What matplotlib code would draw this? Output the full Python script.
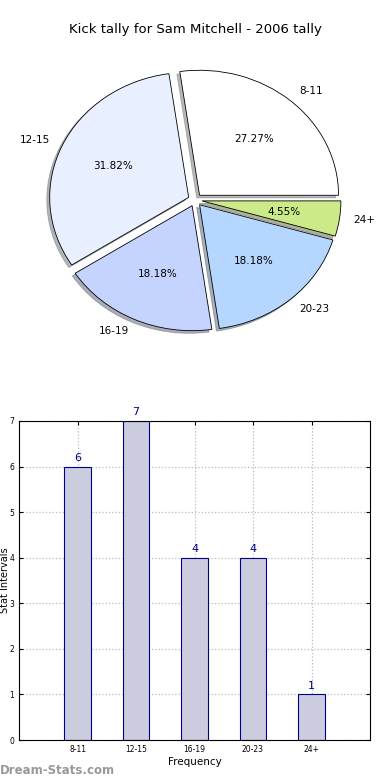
import matplotlib
matplotlib.use('Agg')
from matplotlib import pyplot as plt

# data
labels = ['8-11', '12-15', '16-19', '20-23', '24+']
counts = [6, 7, 4, 4, 1]
pie_colors = ['#ffffff', '#e8f0ff', '#c4d4ff', '#b4d6ff', '#ccea88']

fig = plt.figure(figsize=(3.9, 7.8), dpi=100)

# pie chart (slightly squashed vertically, like the original)
ax1 = fig.add_axes([0, 440/780, 1, 280/780])
wedges, texts, autotexts = ax1.pie(
    counts, labels=labels, colors=pie_colors, explode=[0.05]*5,
    autopct='%1.2f%%', startangle=0, counterclock=True,
    shadow={'ox': -0.015, 'oy': -0.015, 'shade': 0.55},
    wedgeprops=dict(edgecolor='black', linewidth=0.6),
    textprops=dict(fontsize=7.5))
ax1.set_aspect('auto')
ax1.set_xlim(-195/139, 195/139)
ax1.set_ylim(-140/125, 140/125)
ax1.axis('off')
fig.text(0.5, 1 - 30/780, 'Kick tally for Sam Mitchell - 2006 tally',
         ha='center', va='center', fontsize=9.5)

# bar chart
ax2 = fig.add_axes([19/390, 40/780, 351/390, 319/780])
x = range(len(labels))
ax2.bar(x, counts, width=0.45, color='#ccccdf', edgecolor='#00008b', linewidth=0.8, zorder=2)
for i, c in enumerate(counts):
    ax2.text(i, c + 0.08, str(c), ha='center', va='bottom', color='#00008b', fontsize=8)
ax2.set_xlim(-1, 5)
ax2.set_ylim(0, 7)
ax2.set_xticks(list(x))
ax2.set_xticklabels(labels)
ax2.tick_params(labelsize=5.5, direction='in', top=True, right=True, length=3)
ax2.grid(True, linestyle=':', color='#bbbbbb', linewidth=0.9, zorder=0)
ax2.set_axisbelow(True)
ax2.set_xlabel('Frequency', fontsize=7.5, labelpad=2)
ax2.set_ylabel('Stat Intervals', fontsize=7)
ax2.yaxis.set_label_coords(-0.026, 0.5)

fig.text(0.0, 1 - 770/780, 'Dream-Stats.com', ha='left', va='center',
         color='#999999', fontsize=8.5, fontweight='bold')

plt.savefig('out.png')
